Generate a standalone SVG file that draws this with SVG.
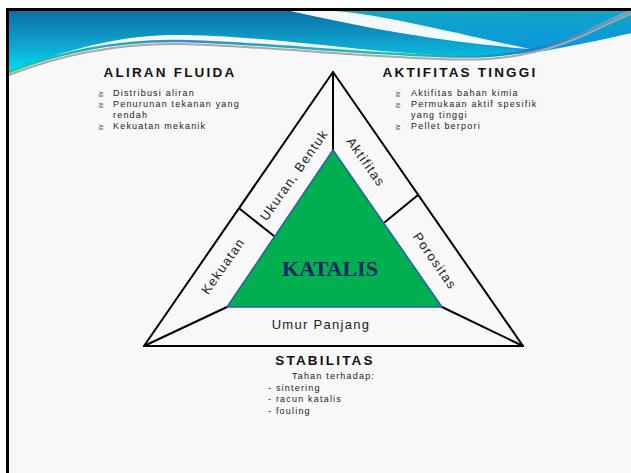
<svg xmlns="http://www.w3.org/2000/svg" width="631" height="473" viewBox="0 0 631 473">
  <defs>
    <linearGradient id="bandBlue" x1="0" y1="0" x2="0" y2="1">
      <stop offset="0" stop-color="#0a6fa6"/>
      <stop offset="0.55" stop-color="#0ea6cf"/>
      <stop offset="1" stop-color="#00e0f0"/>
    </linearGradient>
    <linearGradient id="bandRight" x1="0" y1="0" x2="0.3" y2="1">
      <stop offset="0" stop-color="#12a9c2"/>
      <stop offset="1" stop-color="#0a98dc"/>
    </linearGradient>
    <linearGradient id="stripe" x1="0" y1="0" x2="1" y2="0">
      <stop offset="0" stop-color="#22c7a8"/>
      <stop offset="0.3" stop-color="#2a8fd0"/>
      <stop offset="0.6" stop-color="#1fc4b0"/>
      <stop offset="0.85" stop-color="#1d7fc8"/>
      <stop offset="1" stop-color="#7fa9c8"/>
    </linearGradient>
    <style>
      .edge { fill: none; stroke: #000; stroke-width: 2; stroke-linecap: round; stroke-linejoin: round; }
      .head { font-family: "Liberation Sans", Arial, sans-serif; font-weight: bold; font-size: 13.5px; letter-spacing: 2.2px; fill: #111; text-anchor: middle; }
      .item { font-family: "Liberation Sans", Arial, sans-serif; font-size: 9px; letter-spacing: 1.2px; fill: #222; }
      .bul { font-family: "DejaVu Sans", sans-serif; font-size: 7px; fill: #666; }
      .side { font-family: "Liberation Sans", Arial, sans-serif; font-size: 13px; letter-spacing: 1.3px; fill: #222; text-anchor: middle; }
    </style>
  </defs>

  <!-- page -->
  <rect x="0" y="0" width="631" height="473" fill="#ffffff"/>
  <rect x="6" y="8" width="625" height="465" fill="#f8f8f8"/>

  <!-- header band -->
  <g id="header-band">
    <path d="M9,11 H631 V33 C610,37 590,42 565,47 C530,55 480,58 420,54 C330,48 260,35 170,35 C110,36 50,55 9,73 Z" fill="url(#bandBlue)"/>
    <path d="M335,11 H631 V33 C605,39 575,46 540,50 C500,52 455,40 420,28 C390,18 360,13 335,11 Z" fill="url(#bandRight)"/>
    <path d="M290,11 H335 C385,15 445,31 530,49 C450,43 375,30 290,11 Z" fill="#ffffff" opacity="0.95"/>
    <path d="M9,75 C60,55 120,43 180,44 C260,46 340,55 440,59 C500,62 540,54 580,37 C600,28 615,20 631,14" fill="none" stroke="#a8a8a8" stroke-width="2"/>
    <path d="M9,72 C60,52 120,40 180,41 C260,43 340,52 440,56 C500,59 540,51 580,34 C600,25 615,17 631,11" fill="none" stroke="url(#stripe)" stroke-width="2.5"/>
  </g>

  <!-- frame -->
  <path d="M7.5,473 V9.5 H631" fill="none" stroke="#000" stroke-width="3"/>

  <!-- connectors: outer triangle and spokes -->
  <g id="connectors">
    <path class="edge" d="M333,72 L144,346 L523,346 Z"/>
    <line class="edge" x1="333" y1="72" x2="333" y2="150"/>
    <line class="edge" x1="144" y1="346" x2="227" y2="307"/>
    <line class="edge" x1="523" y1="346" x2="442" y2="307"/>
    <line class="edge" x1="240" y1="209" x2="274" y2="236"/>
    <line class="edge" x1="418" y1="195" x2="385" y2="222"/>
  </g>

  <!-- core node -->
  <g id="katalis">
    <path d="M333,150 L227,307 L442,307 Z" fill="#00b050" stroke="#2a5ea6" stroke-width="1.5" stroke-linejoin="round"/>
    <text x="330" y="276" font-family="'Liberation Serif', 'Times New Roman', serif" font-weight="bold" font-size="22" fill="#142763" text-anchor="middle">KATALIS</text>
  </g>

  <!-- side labels -->
  <g id="ukuran-bentuk">
    <text class="side" transform="translate(294,175) rotate(-55)" x="0" y="4.5">Ukuran, Bentuk</text>
  </g>
  <g id="kekuatan">
    <text class="side" transform="translate(223,266) rotate(-55)" x="0" y="4.5">Kekuatan</text>
  </g>
  <g id="aktifitas">
    <text class="side" transform="translate(366,162) rotate(55)" x="0" y="4.5">Aktifitas</text>
  </g>
  <g id="porositas">
    <text class="side" transform="translate(435,261) rotate(55)" x="0" y="4.5">Porositas</text>
  </g>
  <g id="umur-panjang">
    <text class="side" x="321" y="329" font-size="14" letter-spacing="1.5">Umur Panjang</text>
  </g>

  <!-- corner notes -->
  <g id="aliran-fluida">
    <text class="head" x="170" y="77">ALIRAN FLUIDA</text>
    <text class="bul" x="98" y="96">≧</text>
    <text class="item" x="113" y="96">Distribusi aliran</text>
    <text class="bul" x="98" y="107">≧</text>
    <text class="item" x="113" y="107">Penurunan tekanan yang</text>
    <text class="item" x="113" y="118">rendah</text>
    <text class="bul" x="98" y="129">≧</text>
    <text class="item" x="113" y="129">Kekuatan mekanik</text>
  </g>

  <g id="aktifitas-tinggi">
    <text class="head" x="460" y="77">AKTIFITAS TINGGI</text>
    <text class="bul" x="395" y="96">≧</text>
    <text class="item" x="411" y="96">Aktifitas bahan kimia</text>
    <text class="bul" x="395" y="107">≧</text>
    <text class="item" x="411" y="107">Permukaan aktif spesifik</text>
    <text class="item" x="411" y="118">yang tinggi</text>
    <text class="bul" x="395" y="129">≧</text>
    <text class="item" x="411" y="129">Pellet berpori</text>
  </g>

  <g id="stabilitas">
    <text class="head" x="325" y="365">STABILITAS</text>
    <text class="item" x="292" y="379">Tahan terhadap:</text>
    <text class="item" x="268" y="391">- sintering</text>
    <text class="item" x="268" y="402">- racun katalis</text>
    <text class="item" x="268" y="414">- fouling</text>
  </g>
</svg>
